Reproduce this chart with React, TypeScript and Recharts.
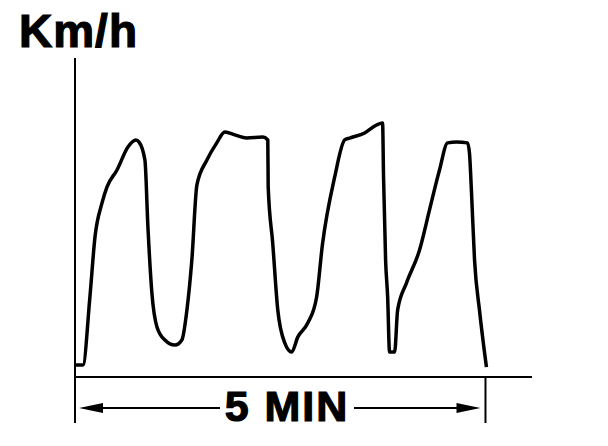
import { LineChart, Line, XAxis, YAxis, ReferenceLine } from 'recharts';

// time in seconds, speed in km/h
const T_SEC = [
    0.7, 5.8, 10.9, 14.6, 19.7, 23.4, 30.7, 38.7, 44.5, 46.7,
    51.1, 53.3, 56.2, 59.9, 65.7, 73.0, 78.1, 81.8, 85.4, 89.1,
    96.4, 103.6, 109.5, 116.8, 125.5, 137.2, 140.9, 141.2, 144.5, 148.2,
    153.3, 158.4, 162.8, 170.1, 176.6, 180.8, 189.8, 197.1, 200.7, 211.7,
    220.4, 224.8, 225.5, 227.0, 228.5, 229.9, 233.6, 235.8, 242.3, 251.8,
    259.1, 266.4, 272.3, 278.8, 286.9, 288.3, 289.8, 292.0, 295.6, 300.7,
];
const KMH = [
    3.8, 3.8, 25.1, 43.9, 54.5, 59.6, 64.9, 72.1, 74.3, 73.7,
    68.0, 47.0, 26.3, 15.7, 11.6, 10.0, 11.6, 21.0, 36.7, 60.2,
    68.0, 73.4, 76.8, 75.9, 74.9, 75.2, 74.3, 59.6, 42.0, 21.0,
    10.7, 7.8, 12.5, 16.9, 25.1, 41.4, 62.7, 74.3, 74.9, 76.5,
    79.0, 79.6, 62.7, 36.7, 25.1, 7.8, 7.8, 21.0, 29.5, 39.8,
    52.4, 64.9, 73.4, 73.7, 73.4, 70.2, 57.7, 36.7, 21.0, 3.1,
];
const SPAN_TICKS = [0, 300];
const SPAN_LABEL = '5 MIN';
const Y_LABEL = 'Km/h';

const data = T_SEC.map((t, i) => ({ t, v: KMH[i] }));

const FONT = '"Liberation Sans", Arial, sans-serif';

function SpanArrow(props: any) {
    const { x, y, width } = props.viewBox;
    const x1 = x + 4;
    const x2 = x + width - 5;
    const cx = x + 212;
    const half = 67;
    return (
        <g>
            <line x1={x1 + 20} y1={y} x2={cx - half} y2={y} stroke="#000" strokeWidth={2} />
            <line x1={cx + half} y1={y} x2={x2 - 20} y2={y} stroke="#000" strokeWidth={2} />
            <polygon points={`${x1},${y} ${x1 + 24},${y - 5} ${x1 + 24},${y + 5}`} fill="#000" />
            <polygon points={`${x2},${y} ${x2 - 24},${y - 5} ${x2 - 24},${y + 5}`} fill="#000" />
            <text
                x={cx}
                y={y + 13}
                textAnchor="middle"
                fontFamily={FONT}
                fontWeight="bold"
                fontSize={43}
                letterSpacing={2}
                stroke="#000"
                strokeWidth={1.2}
                fill="#000"
            >
                {SPAN_LABEL}
            </text>
        </g>
    );
}

function TitleLabel() {
    return (
        <text
            x={19}
            y={47}
            fontFamily={FONT}
            fontWeight="bold"
            fontSize={46}
            letterSpacing={1}
            stroke="#000"
            strokeWidth={1.2}
            fill="#000"
        >
            {Y_LABEL}
        </text>
    );
}

export default function App() {
    return (
        <div style={{ position: 'absolute', left: 0, top: 0, background: '#fff' }}>
            <LineChart width={608} height={446} data={data} margin={{ top: 58, right: 76, bottom: 39, left: 74 }}>
                <XAxis
                    dataKey="t"
                    type="number"
                    domain={[0, 334]}
                    ticks={SPAN_TICKS}
                    tickFormatter={() => ''}
                    tickSize={46}
                    height={30}
                    axisLine={{ stroke: '#000', strokeWidth: 2 }}
                    tickLine={{ stroke: '#000', strokeWidth: 2 }}
                />
                <YAxis
                    type="number"
                    domain={[0, 100]}
                    width={1}
                    tick={false}
                    tickLine={false}
                    axisLine={{ stroke: '#000', strokeWidth: 2 }}
                    label={<TitleLabel />}
                />
                <ReferenceLine
                    segment={[{ x: SPAN_TICKS[0], y: -9.7 }, { x: SPAN_TICKS[1], y: -9.7 }]}
                    ifOverflow="visible"
                    stroke="none"
                    label={<SpanArrow />}
                />
                <Line
                    type="monotone"
                    dataKey="v"
                    stroke="#000"
                    strokeWidth={3.5}
                    strokeLinejoin="round"
                    dot={false}
                    activeDot={false}
                    isAnimationActive={false}
                />
            </LineChart>
        </div>
    );
}
